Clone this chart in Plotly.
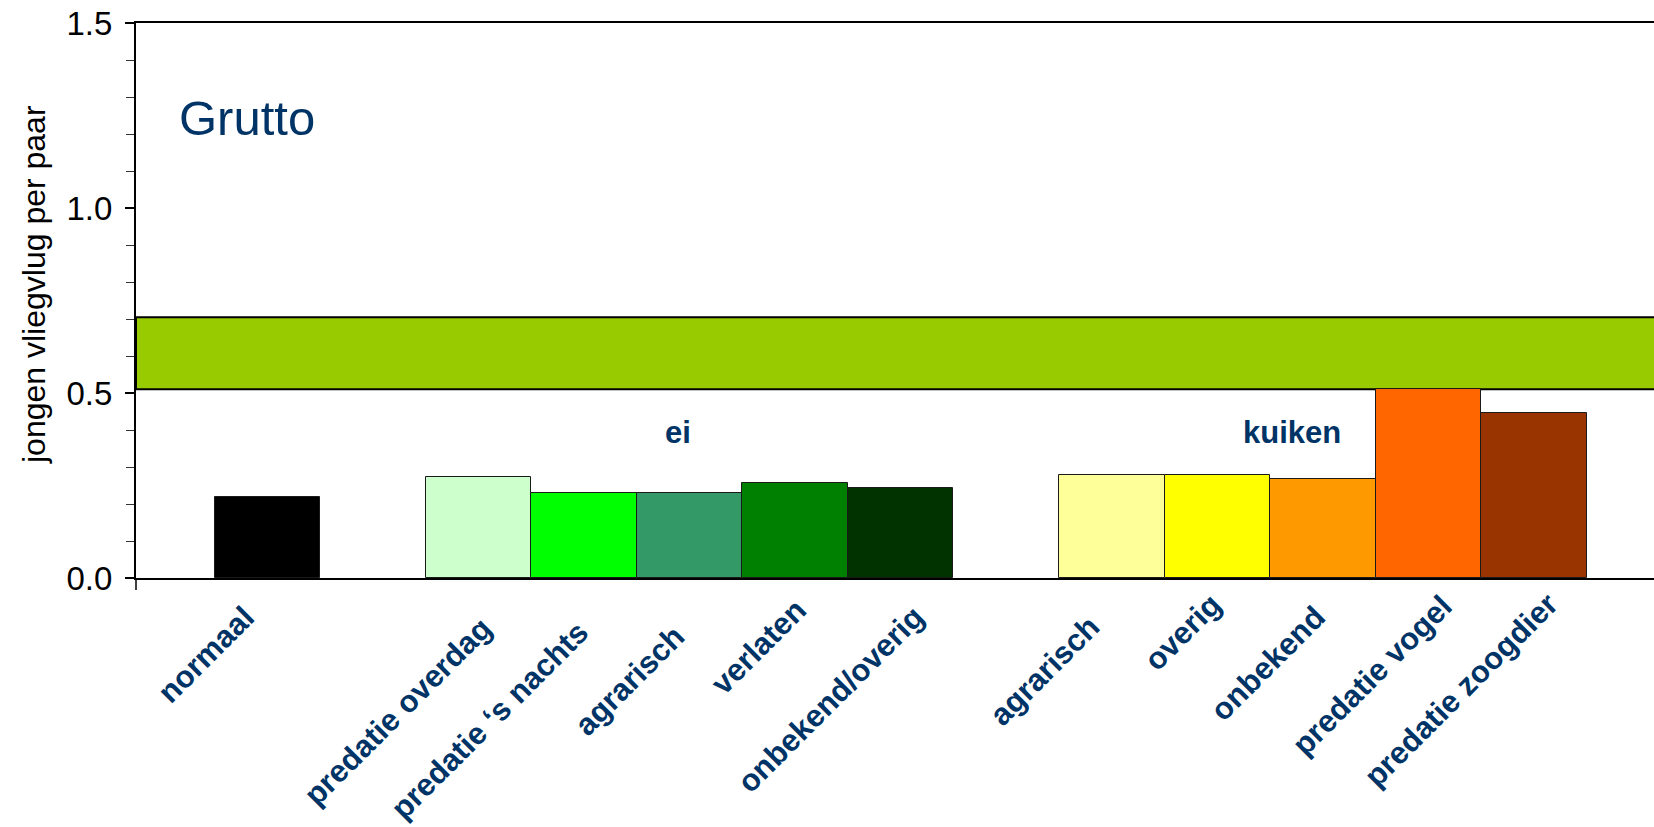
import plotly.graph_objects as go

# Broedsucces grutto: jongen vliegvlug per paar, naar oorzaak van verlies
groups = ["", "ei", "kuiken"]
categories = [
    ["normaal"],
    ["predatie overdag", "predatie \u2018s nachts", "agrarisch", "verlaten", "onbekend/overig"],
    ["agrarisch", "overig", "onbekend", "predatie vogel", "predatie zoogdier"],
]
values = [
    [0.22],
    [0.274, 0.231, 0.231, 0.257, 0.242],
    [0.279, 0.279, 0.268, 0.51, 0.447],
]
band_low = 0.51
band_high = 0.705
y_ticks = [0.0, 0.5, 1.0, 1.5]

# styling
colors = [
    ["#000000"],
    ["#CCFFCC", "#00FF00", "#339966", "#008000", "#003300"],
    ["#FFFF99", "#FFFF00", "#FF9900", "#FF6600", "#993300"],
]
navy = "#003366"
label_shift = [  # (dx, top y in px) of each rotated category label end
    [(-3, 597)],
    [(23, 608), (14, 612), (5, 616), (21, 589), (33, 597)],
    [(-2, 606), (13, 584), (12, 597), (33, 586), (33, 584)],
]

W, H = 1654, 827
ML, MT, MB = 136, 23, 249
plot_h = H - MT - MB

# slot positions: one empty slot between groups
xs, names, ys, cols, shifts, group_centers = [], [], [], [], [], []
pos = 0
for g, cats in enumerate(categories):
    start = pos
    for i, c in enumerate(cats):
        xs.append(pos)
        names.append(c)
        ys.append(values[g][i])
        cols.append(colors[g][i])
        shifts.append(label_shift[g][i])
        pos += 1
    group_centers.append((start + pos - 1) / 2)
    pos += 1

fig = go.Figure()
fig.add_trace(go.Bar(
    x=xs, y=ys, width=1.0,
    marker=dict(color=cols, line=dict(color="#1a1a1a", width=1)),
    hovertext=names, hoverinfo="text+y",
))

# reference band
fig.add_shape(type="rect", xref="paper", yref="y", x0=0, x1=1.02,
              y0=band_low, y1=band_high, fillcolor="#99CC00",
              line=dict(color="black", width=2), layer="below")

# y-axis line continues a little below zero
fig.add_shape(type="line", xref="paper", yref="paper", x0=0, x1=0,
              y0=0, y1=-12 / plot_h, line=dict(color="black", width=1.5))

label_font = dict(family="Liberation Sans, Arial", size=31, color=navy, weight="bold")
ann = []
for x, name, (dx, ty) in zip(xs, names, shifts):
    ann.append(dict(
        x=x, xref="x", xshift=dx, xanchor="right",
        y=0, yref="paper", yshift=-(ty - (H - MB)), yanchor="top",
        text=name, textangle=-45, showarrow=False, font=label_font,
    ))

# group labels
for g, (dx, cy) in zip([1, 2], [(-12, 432), (-31, 432)]):
    ann.append(dict(
        x=group_centers[g], xref="x", xshift=dx, xanchor="center",
        y=(H - MB - cy) / plot_h, yref="paper", yanchor="middle",
        text=groups[g], showarrow=False,
        font=dict(family="Liberation Sans, Arial", size=31, color=navy, weight="bold"),
    ))

ann.append(dict(
    x=0, xref="paper", xshift=41, xanchor="left",
    y=(H - MB - 118) / plot_h, yref="paper", yanchor="middle",
    text="Grutto", showarrow=False,
    font=dict(family="Liberation Sans, Arial", size=49, color=navy),
))
ann.append(dict(
    x=0, xref="paper", xshift=-102, xanchor="center",
    y=(H - MB - 285) / plot_h, yref="paper", yanchor="middle",
    text="jongen vliegvlug per paar", textangle=-90, showarrow=False,
    font=dict(family="Liberation Sans, Arial", size=32, color="black"),
))

fig.update_layout(
    width=W, height=H,
    margin=dict(l=ML, r=0, t=MT, b=MB, pad=0),
    paper_bgcolor="white", plot_bgcolor="white",
    showlegend=False, bargap=0,
    annotations=ann,
    xaxis=dict(range=[-1.245, 13.137], showticklabels=False, ticks="",
               showgrid=False, zeroline=False, showline=True, mirror=True,
               linecolor="black", linewidth=2),
    yaxis=dict(range=[0, 1.5], tickvals=y_ticks, tickformat=".1f",
               ticks="outside", ticklen=9, tickwidth=1.5, tickcolor="black",
               minor=dict(dtick=0.1, ticks="outside", ticklen=8, tickwidth=1.2, tickcolor="#333"),
               showgrid=False, zeroline=False, showline=True,
               linecolor="black", linewidth=2, ticklabelstandoff=6,
               tickfont=dict(family="Liberation Sans, Arial", size=33, color="black")),
)

fig.write_html("out.html")
